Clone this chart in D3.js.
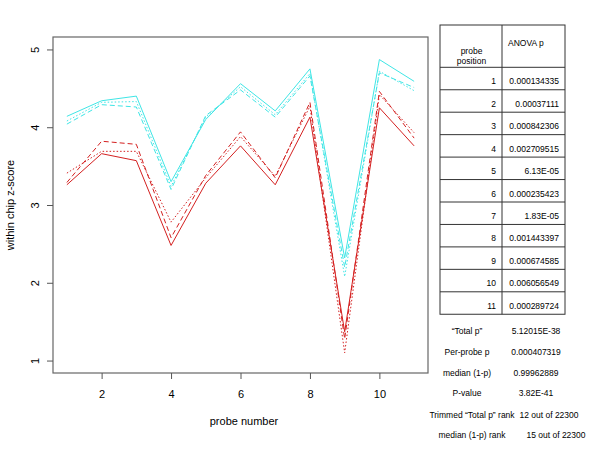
<!DOCTYPE html>
<html>
<head>
<meta charset="utf-8">
<script src="https://cdn.jsdelivr.net/npm/d3@7"></script>
<style>
  body { margin: 0; background: #fff; }
  text { font-family: "Liberation Sans", Arial, sans-serif; fill: #000; }
</style>
</head>
<body>
<div id="chart"></div>
<script>
"use strict";

// data
var probes = [1, 2, 3, 4, 5, 6, 7, 8, 9, 10, 11];
var cyanSolid  = [4.14, 4.34, 4.40, 3.30, 4.10, 4.56, 4.21, 4.75, 2.32, 4.87, 4.59];
var cyanDashed = [4.04, 4.29, 4.26, 3.20, 4.15, 4.48, 4.13, 4.66, 2.20, 4.70, 4.51];
var cyanDotted = [4.08, 4.32, 4.33, 3.24, 4.13, 4.52, 4.16, 4.69, 2.08, 4.72, 4.47];
var redSolid   = [3.26, 3.66, 3.57, 2.48, 3.28, 3.76, 3.26, 4.13, 1.37, 4.25, 3.76];
var redDashed  = [3.29, 3.82, 3.78, 2.58, 3.38, 3.94, 3.35, 4.32, 1.28, 4.46, 3.86];
var redDotted  = [3.41, 3.69, 3.69, 2.78, 3.35, 3.88, 3.37, 4.27, 1.10, 4.42, 3.93];
var xTicks = [2, 4, 6, 8, 10];
var yTicks = [1, 2, 3, 4, 5];

var tablePositions = ["1", "2", "3", "4", "5", "6", "7", "8", "9", "10", "11"];
var anovaP = ["0.000134335", "0.00037111", "0.000842306", "0.002709515", "6.13E-05",
  "0.000235423", "1.83E-05", "0.001443397", "0.000674585", "0.006056549", "0.000289724"];
var statLabels = ["\u201cTotal p\u201d", "Per-probe p", "median (1-p)", "P-value",
  "Trimmed \u201cTotal p\u201d rank", "median (1-p) rank"];
var statValues = ["5.12015E-38", "0.000407319", "0.99962889", "3.82E-41",
  "12 out of 22300", "15 out of 22300"];

var series = [
  { values: redSolid,   color: "#d42020", dash: null },
  { values: redDashed,  color: "#d42020", dash: "5,3" },
  { values: redDotted,  color: "#d42020", dash: "1.5,2" },
  { values: cyanSolid,  color: "#3fe6e6", dash: null },
  { values: cyanDashed, color: "#3fe6e6", dash: "5,3" },
  { values: cyanDotted, color: "#3fe6e6", dash: "1.5,2" }
];

var svg = d3.select("#chart").append("svg")
  .attr("width", 600)
  .attr("height", 450);

// plot region
var plotLeft = 53, plotRight = 428, plotTop = 37, plotBottom = 373;

var x = d3.scaleLinear().domain([0.6, 11.4]).range([plotLeft, plotRight]);
var y = d3.scaleLinear().domain([0.84, 5.16]).range([plotBottom, plotTop]);

var line = d3.line()
  .x(function(d, i) { return x(probes[i]); })
  .y(function(d) { return y(d); });

series.forEach(function(s) {
  svg.append("path")
    .attr("d", line(s.values))
    .attr("fill", "none")
    .attr("stroke", s.color)
    .attr("stroke-width", 1)
    .attr("stroke-dasharray", s.dash);
});

// box
svg.append("rect")
  .attr("x", plotLeft)
  .attr("y", plotTop)
  .attr("width", plotRight - plotLeft)
  .attr("height", plotBottom - plotTop)
  .attr("fill", "none")
  .attr("stroke", "#666")
  .attr("stroke-width", 1.2);

// axes
var xAxis = svg.append("g")
  .attr("transform", "translate(0," + plotBottom + ")")
  .call(d3.axisBottom(x).tickValues(xTicks).tickSize(6).tickPadding(11));
var yAxis = svg.append("g")
  .attr("transform", "translate(" + plotLeft + ",0)")
  .call(d3.axisLeft(y).tickValues(yTicks).tickFormat(d3.format("d")).tickSize(6));

[xAxis, yAxis].forEach(function(a) {
  a.select(".domain").remove();
  a.selectAll(".tick line").attr("stroke", "#555");
  a.selectAll(".tick text").attr("font-size", 11).attr("fill", "#000")
    .style("font-family", "Liberation Sans, Arial, sans-serif");
});

yAxis.selectAll(".tick text")
  .attr("x", null)
  .attr("text-anchor", "middle")
  .attr("transform", "translate(-18,0) rotate(-90)")
  .attr("dy", "0.35em");

svg.append("text")
  .attr("x", 244)
  .attr("y", 425)
  .attr("text-anchor", "middle")
  .attr("font-size", 11)
  .text("probe number");

svg.append("text")
  .attr("transform", "translate(14," + ((plotTop + plotBottom) / 2) + ") rotate(-90)")
  .attr("text-anchor", "middle")
  .attr("font-size", 11)
  .text("within chip z-score");

// table
var tLeft = 440, tMid = 502, tRight = 565, tTop = 25, headBottom = 67.3, rowH = 22.45;
var tBottom = headBottom + rowH * tablePositions.length;
var table = svg.append("g").attr("font-size", 8.5);

table.append("rect")
  .attr("x", tLeft).attr("y", tTop)
  .attr("width", tRight - tLeft).attr("height", tBottom - tTop)
  .attr("fill", "none").attr("stroke", "#333").attr("stroke-width", 1);
table.append("line")
  .attr("x1", tMid).attr("x2", tMid).attr("y1", tTop).attr("y2", tBottom)
  .attr("stroke", "#333");

table.append("text").attr("x", 471.5).attr("y", 53.5).attr("text-anchor", "middle").text("probe");
table.append("text").attr("x", 471.5).attr("y", 63.5).attr("text-anchor", "middle").text("position");
table.append("text").attr("x", 508).attr("y", 45.5).text("ANOVA p");

tablePositions.forEach(function(p, i) {
  var y0 = headBottom + rowH * i;
  table.append("line")
    .attr("x1", tLeft).attr("x2", tRight).attr("y1", y0).attr("y2", y0)
    .attr("stroke", "#333");
  table.append("text")
    .attr("x", 496).attr("y", y0 + 17)
    .attr("text-anchor", "end").text(p);
  table.append("text")
    .attr("x", 559).attr("y", y0 + 17)
    .attr("text-anchor", "end").text(anovaP[i]);
});

// summary stats under the table
var statY = [333.5, 355, 376, 396, 418, 438];
statLabels.forEach(function(lab, i) {
  var rank = i >= 4;
  table.append("text")
    .attr("x", rank ? 472 : 467).attr("y", statY[i])
    .attr("text-anchor", "middle").text(lab);
  table.append("text")
    .attr("x", rank ? (i === 4 ? 549 : 556) : 536).attr("y", statY[i])
    .attr("text-anchor", "middle").text(statValues[i]);
});
</script>
</body>
</html>
